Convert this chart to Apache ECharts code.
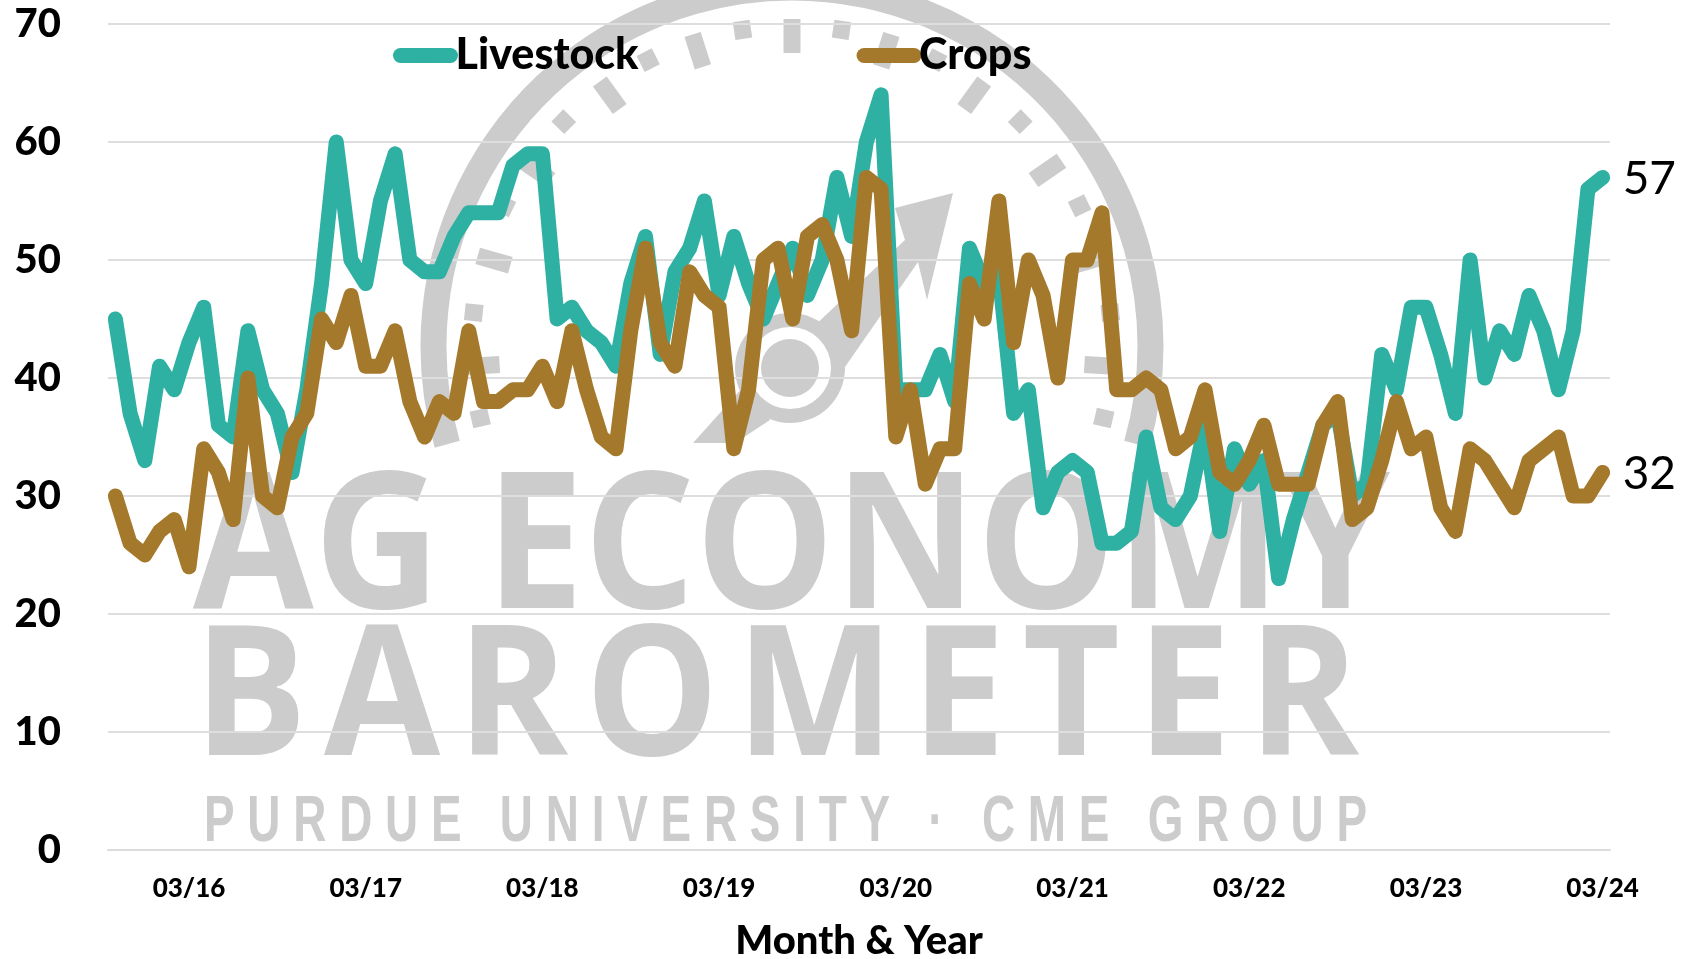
<!DOCTYPE html>
<html>
<head>
<meta charset="utf-8">
<style>html,body{margin:0;padding:0;background:#fff}#c{width:1685px;height:959px}</style>
<script src="https://cdn.jsdelivr.net/npm/echarts@6/dist/echarts.min.js"></script>
</head>
<body>
<div id="c"></div>
<script>
const livestock = [45,37,33,41,39,43,46,36,35,44,39,37,32,39,48,60,50,48,55,59,50,49,49,52,54,54,54,58,59,59,45,46,44,43,41,48,52,42,49,51,55,47,52,48,45,48,51,47,50,57,52,60,64,39,39,39,42,38,51,48,49,37,39,29,32,33,32,26,26,27,35,29,28,30,36,27,34,31,33,23,28,32,36,37,30,31,42,39,46,46,42,37,50,40,44,42,47,44,39,44,56,57];
const crops = [30,26,25,27,28,24,34,32,28,40,30,29,35,37,45,43,47,41,41,44,38,35,38,37,44,38,38,39,39,41,38,44,39,35,34,44,51,43,41,49,47,46,34,39,50,51,45,52,53,50,44,57,56,35,39,31,34,34,48,45,55,43,50,47,40,50,50,54,39,39,40,39,34,35,39,32,31,33,36,31,31,31,36,38,28,29,33,38,34,35,29,27,34,33,31,29,33,34,35,30,30,32];
const tickLabels = ['03/16','03/17','03/18','03/19','03/20','03/21','03/22','03/23','03/24'];
const yTicks = [0,10,20,30,40,50,60,70];
const categories = livestock.map((_, i) => (i - 5) % 12 === 0 ? tickLabels[(i - 5) / 12] : '');

// Watermark logo behind the chart
const GREY = '#cccccc';
const cx = 792, cy = 346;
const measure = document.createElement('canvas').getContext('2d');
function fitText(text, font, left, width, midY) {
  measure.font = font;
  const s = width / measure.measureText(text).width;
  return {type:'text', silent:true, z:-10, x:left, y:midY, scaleX:s, originX:0, originY:0,
    style:{text, font, fill:GREY, textAlign:'left', textVerticalAlign:'middle'}};
}
function tick(deg, long) {
  const a = deg * Math.PI / 180, rc = long ? 310 : 320, h = (long ? 34 : 18) / 2;
  const sx = Math.sin(a), cxx = -Math.cos(a);
  return {type:'line', silent:true, z:-10,
    shape:{x1:cx + (rc - h) * sx, y1:cy + (rc - h) * cxx, x2:cx + (rc + h) * sx, y2:cy + (rc + h) * cxx},
    style:{stroke:GREY, lineWidth:17}};
}
const tickAngles = [0,8.9,17.7,26.7,36,45.5,55.5,64,74,84,93.6,103];
const logo = [];
tickAngles.forEach((d, i) => {
  logo.push(tick(d, i % 2 === 0));
  if (d) logo.push(tick(-d, i % 2 === 0));
});
logo.push(
  {type:'arc', silent:true, z:-10,
    shape:{cx, cy, r:358.5, startAngle:(180 - 15.9) * Math.PI / 180, endAngle:(360 + 15.9) * Math.PI / 180, clockwise:true},
    style:{stroke:GREY, lineWidth:26, fill:'none'}},
  {type:'polygon', silent:true, z:-10,
    shape:{points:[[953,193],[895,208],[905,240],[752,385],[822,400],[918,262],[927,300]]},
    style:{fill:GREY}},
  {type:'polygon', silent:true, z:-10,
    shape:{points:[[693,443],[735,443],[770,420],[745,385]]},
    style:{fill:GREY}},
  {type:'circle', silent:true, z:-9, shape:{cx:790, cy:368, r:55}, style:{fill:GREY}},
  {type:'circle', silent:true, z:-8, shape:{cx:790, cy:368, r:41}, style:{fill:'#ffffff'}},
  {type:'circle', silent:true, z:-7, shape:{cx:790, cy:368, r:29}, style:{fill:GREY}},
  fitText('AG ECONOMY', 'bold 190px "Open Sans"', 193, 1197, 554),
  fitText('B\u200AA\u200AR\u200AO\u200AM\u200AE\u200AT\u200AE\u200AR', 'bold 182px "Open Sans"', 194, 1165, 703),
  fitText('P U R D U E   U N I V E R S I T Y   ·   C M E   G R O U P', 'bold 64px "Liberation Sans"', 204, 1163, 823)
);

const FONT = 'Lato';
const chart = echarts.init(document.getElementById('c'), null, {renderer:'canvas'});
function mkSeries(name, data, color) {
  return {
    name, type:'line', data, symbol:'none', smooth:false, animation:false,
    lineStyle:{color, width:15, cap:'round', join:'round'},
    itemStyle:{color},
    endLabel:{show:true, formatter:'{c}', color:'#000', fontFamily:FONT, fontSize:46, distance:20, offset:[0,2]}
  };
}
chart.setOption({
  backgroundColor:'#ffffff',
  animation:false,
  graphic:{elements:logo},
  grid:{left:108, right:75, top:24, bottom:109, outerBoundsMode:'none'},
  legend:{
    left:388, top:29, itemWidth:50, itemHeight:15, itemGap:218,
    lineStyle:{width:15, cap:'round'},
    textStyle:{fontFamily:FONT, fontWeight:900, fontSize:43, color:'#000'},
    data:['Livestock','Crops']
  },
  xAxis:{
    type:'category', data:categories, boundaryGap:true,
    name:'Month & Year', nameLocation:'middle', nameGap:71,
    nameTextStyle:{fontFamily:FONT, fontWeight:900, fontSize:40, color:'#000'},
    axisTick:{show:false},
    axisLine:{lineStyle:{color:'#dcdcdc', width:2}},
    axisLabel:{interval:0, margin:26, fontFamily:FONT, fontWeight:900, fontSize:26, color:'#000', hideOverlap:false}
  },
  yAxis:{
    type:'value', min:yTicks[0], max:yTicks[yTicks.length-1], interval:10,
    axisLine:{show:false}, axisTick:{show:false},
    splitLine:{lineStyle:{color:'#dedede', width:2}},
    axisLabel:{margin:47, fontFamily:FONT, fontWeight:900, fontSize:40, color:'#000'}
  },
  series:[mkSeries('Livestock', livestock, '#2EB0A3'), mkSeries('Crops', crops, '#A5792C')]
});
</script>
</body>
</html>
